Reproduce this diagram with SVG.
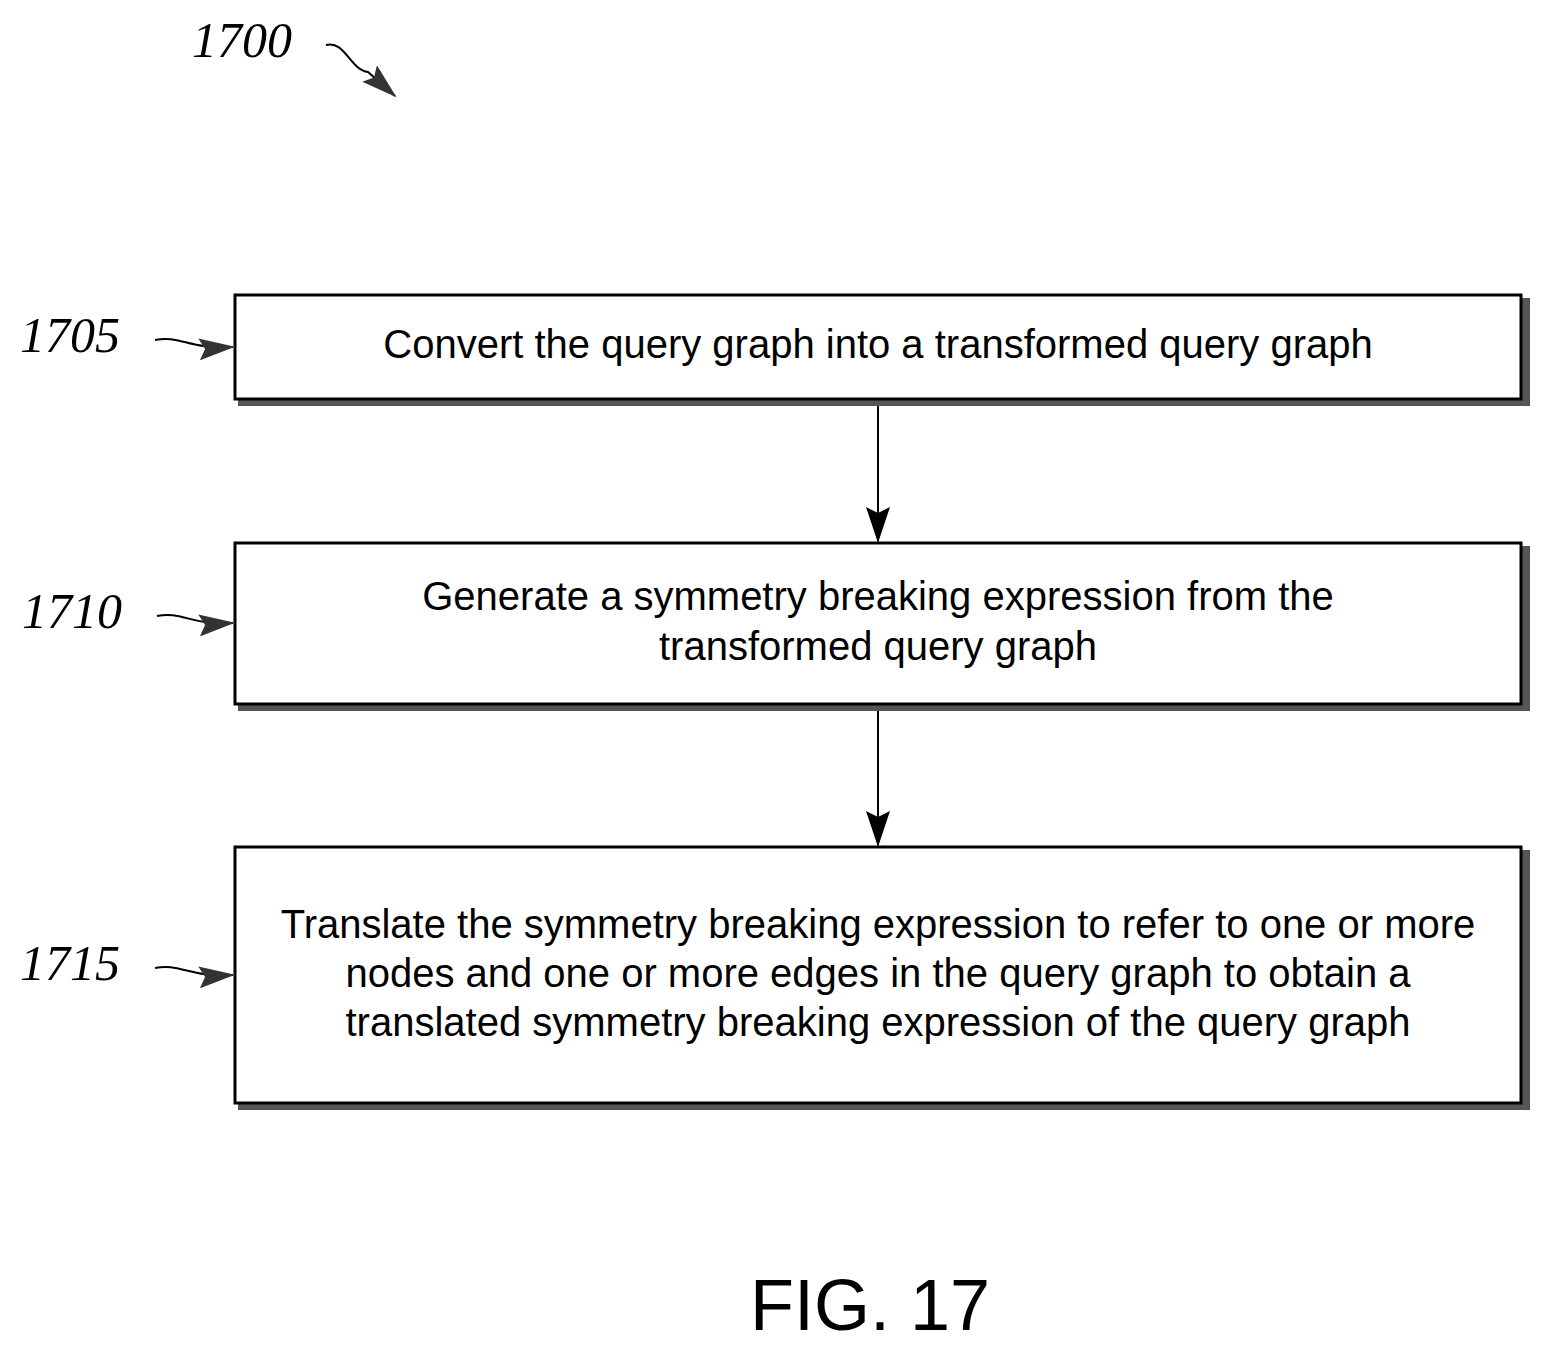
<svg xmlns="http://www.w3.org/2000/svg" width="1549" height="1354" viewBox="0 0 1549 1354">
<style>
.box{fill:#fff;stroke:#000;stroke-width:3}
.sh{fill:#555}
.t{font-family:"Liberation Sans Narrow","Liberation Sans",sans-serif;font-size:40px;text-anchor:middle;fill:#000}
.ref{font-family:"Liberation Serif",serif;font-style:italic;font-size:50px;fill:#000}
.ln{fill:none;stroke:#000;stroke-width:2}
</style>
<defs>
<marker id="ah2" markerWidth="36" markerHeight="22" refX="34" refY="11" orient="auto" markerUnits="userSpaceOnUse" viewBox="0 0 36 22"><path d="M0,0 L36,11 L0,22 L6,11 Z" fill="#333"/></marker>
<marker id="ah3" markerWidth="36" markerHeight="24" refX="34" refY="12" orient="auto" markerUnits="userSpaceOnUse" viewBox="0 0 36 24"><path d="M0,0 L36,12 L0,24 L6,12 Z" fill="#000"/></marker>
</defs>
<text class="ref" x="192" y="57">1700</text>
<path class="ln" d="M326,45 C345,40 350,70 368,72 L395,96" marker-end="url(#ah2)"/>
<g id="n1705">
<rect class="sh" x="238" y="298" width="1292" height="108"/>
<rect class="box" x="235" y="295" width="1286" height="104"/>
<text class="t" x="878" y="358">Convert the query graph into a transformed query graph</text>
<text class="ref" x="20" y="352">1705</text>
</g>
<g id="n1710">
<rect class="sh" x="238" y="546" width="1292" height="165"/>
<rect class="box" x="235" y="543" width="1286" height="161"/>
<text class="t" x="878" y="610">Generate a symmetry breaking expression from the</text>
<text class="t" x="878" y="660">transformed query graph</text>
<text class="ref" x="22" y="628">1710</text>
</g>
<g id="n1715">
<rect class="sh" x="238" y="850" width="1292" height="260"/>
<rect class="box" x="235" y="847" width="1286" height="256"/>
<text class="t" x="878" y="938">Translate the symmetry breaking expression to refer to one or more</text>
<text class="t" x="878" y="987">nodes and one or more edges in the query graph to obtain a</text>
<text class="t" x="878" y="1036">translated symmetry breaking expression of the query graph</text>
<text class="ref" x="20" y="980">1715</text>
</g>
<g id="connectors">
<path class="ln" d="M878,406 V541" marker-end="url(#ah3)"/>
<path class="ln" d="M878,711 V845" marker-end="url(#ah3)"/>
<path class="ln" d="M155,340 C180,335 190,350 233,347" marker-end="url(#ah2)"/>
<path class="ln" d="M157,616 C182,611 192,626 233,623" marker-end="url(#ah2)"/>
<path class="ln" d="M155,968 C180,963 190,978 233,975" marker-end="url(#ah2)"/>
</g>
<text x="870" y="1330" font-family="Liberation Sans,sans-serif" font-size="72" text-anchor="middle">FIG. 17</text>
</svg>
